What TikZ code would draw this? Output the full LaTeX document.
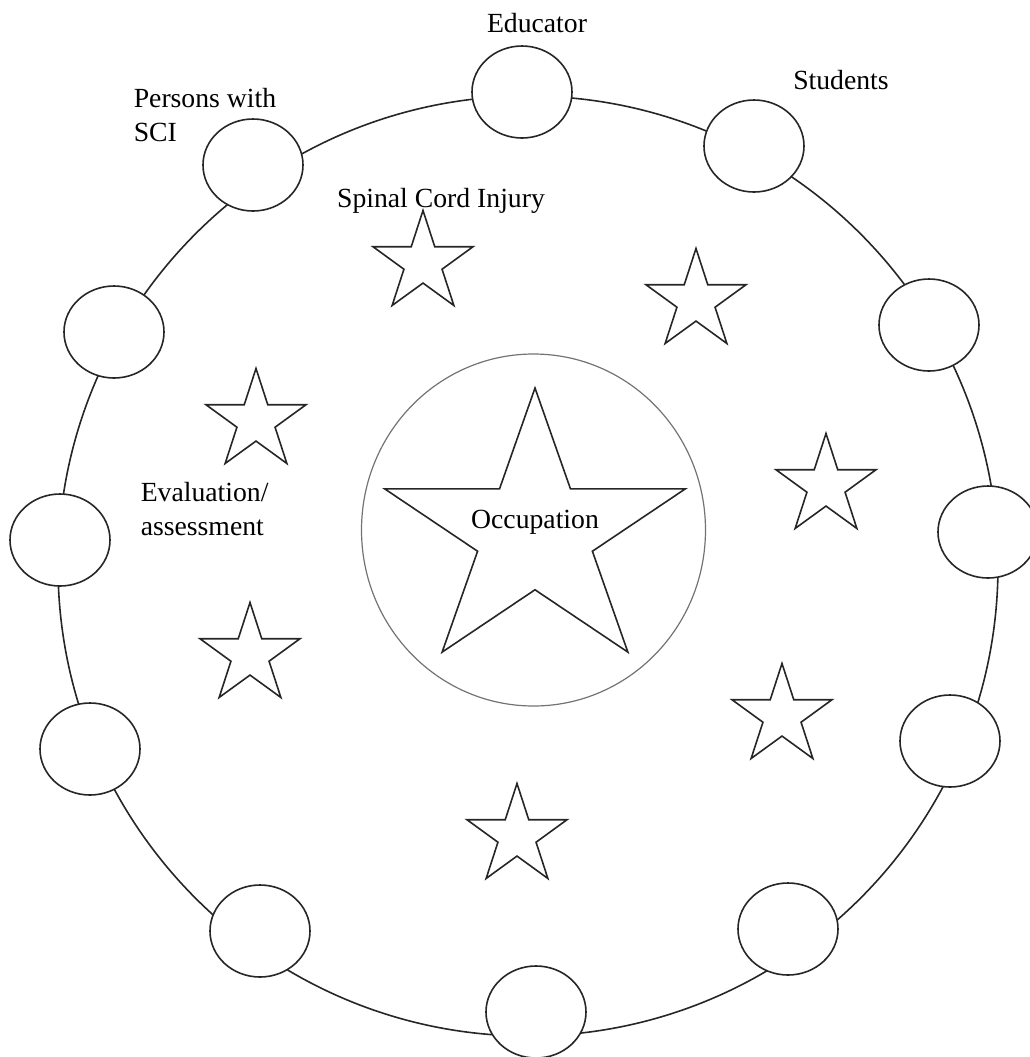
\documentclass[tikz,border=0pt]{standalone}
\usepackage{fontspec}
\setmainfont{Liberation Serif}
\usetikzlibrary{shapes.geometric}

\begin{document}
\begin{tikzpicture}[x=0.5pt, y=-0.5pt, line width=0.8pt,
    spot/.style={draw=black!85, fill=white, ellipse, minimum width=50pt, minimum height=46pt, inner sep=0pt},
    starmark/.style={draw=black!85, star, star points=5, star point ratio=2.618, minimum size=52.5pt, inner sep=0pt},
    lbl/.style={inner sep=0pt, font=\fontsize{13.85pt}{17pt}\selectfont, align=left}]
  \useasboundingbox (0,0) rectangle (1030,1057);

  % outer ring with its twelve spots
  \draw[black!85] (528,566) circle [radius=235pt];
  \foreach \x/\y [count=\i] in {522/92, 754/146, 929/325, 988/532, 950/741, 788/929,
                                536/1012, 260/931, 90/749, 60/540, 114/332, 253/165}
    \node[spot] (c\i) at (\x,\y) {};

  % small stars
  \foreach \x/\y [count=\i] in {423/263, 696/301, 256/421, 826/486, 250/655, 782/716, 517/836}
    \node[starmark] (s\i) at (\x,\y) {};

  % centre
  \draw[black!55, line width=0.6pt] (533.5,530) ellipse [x radius=86pt, y radius=88pt];
  \begin{scope}[shift={(535,534)}, yscale=0.924]
    \node[draw=black!85, star, star points=5, star point ratio=2.618, minimum size=158pt,
          inner sep=0pt, transform shape] (core) at (0,0) {};
  \end{scope}

  % labels (base = last line)
  \node[lbl, anchor=base] (educator) at (537,32) {Educator};
  \node[lbl, anchor=base] (students) at (841,89) {Students};
  \node[lbl, anchor=base west] (persons) at (133,141) {Persons with\\SCI};
  \node[lbl, anchor=base] (sci) at (441,207) {Spinal Cord Injury};
  \node[lbl, anchor=base west] (evaluation) at (140,535) {Evaluation/\\assessment};
  \node[lbl, anchor=base] (occupation) at (535,528) {Occupation};
\end{tikzpicture}
\end{document}
